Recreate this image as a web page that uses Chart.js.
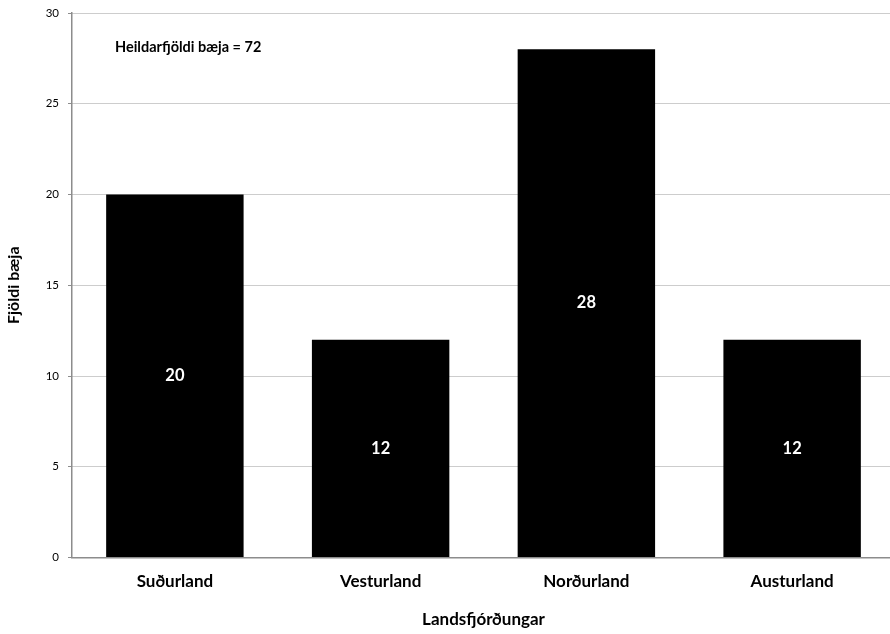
<!DOCTYPE html>
<html>
<head>
<meta charset="utf-8">
<script src="https://cdn.jsdelivr.net/npm/chart.js@4.4.1/dist/chart.umd.min.js"></script>
<style>
  html, body { margin: 0; padding: 0; background: #fff; overflow: hidden; }
  #wrap { position: relative; width: 895px; height: 634px; }
</style>
</head>
<body>
<div id="wrap"><canvas id="chart"></canvas></div>
<script>
// Fjöldi bæja eftir landsfjórðungum
const categories = ["Suðurland", "Vesturland", "Norðurland", "Austurland"];
const farmCounts = [20, 12, 28, 12];
const yTicks = [0, 5, 10, 15, 20, 25, 30];
const totalNote = "Heildarfjöldi bæja = 72";

const FONT = "Lato, 'Open Sans', sans-serif";
const AXIS = "#8c8c8c";

// white value labels centred in each bar, plus the total note top-left
const barLabels = {
  id: "barLabels",
  afterDatasetsDraw(chart) {
    const { ctx, chartArea } = chart;
    const meta = chart.getDatasetMeta(0);
    ctx.save();
    ctx.fillStyle = "#fff";
    ctx.font = `bold 16.5px ${FONT}`;
    ctx.textAlign = "center";
    ctx.textBaseline = "middle";
    meta.data.forEach((bar, i) => {
      const mid = (bar.y + bar.base) / 2;
      ctx.fillText(String(farmCounts[i]), bar.x, mid);
    });
    ctx.fillStyle = "#000";
    ctx.font = `bold 14.5px ${FONT}`;
    ctx.textAlign = "left";
    ctx.fillText(totalNote, chartArea.left + 43, chartArea.top + 34);
    ctx.restore();
  },
};

new Chart(document.getElementById("chart"), {
  type: "bar",
  data: {
    labels: categories,
    datasets: [{
      data: farmCounts,
      backgroundColor: "#000",
      borderWidth: 0,
      categoryPercentage: 1,
      barPercentage: 0.668,
    }],
  },
  options: {
    responsive: true,
    maintainAspectRatio: false,
    animation: false,
    layout: { padding: { top: 13, right: 0, left: 0, bottom: 0 } },
    plugins: { legend: { display: false }, tooltip: { enabled: false } },
    scales: {
      x: {
        grid: { display: false },
        border: { display: true, color: AXIS, width: 1.5 },
        ticks: { color: "#000", font: { family: FONT, size: 17, weight: "bold" }, padding: 6 },
        title: {
          display: true, text: "Landsfjórðungar", color: "#000",
          font: { family: FONT, size: 17, weight: "bold" }, padding: { top: 14 },
        },
        afterFit(scale) { scale.height = 76.5; },
      },
      y: {
        min: 0,
        max: 30,
        afterBuildTicks(scale) { scale.ticks = yTicks.map((v) => ({ value: v })); },
        afterFit(scale) {
          scale.width = 72;
          // let the top tick label overhang instead of pushing the plot down
          scale.paddingTop = 0;
        },
        grid: { color: "#9a9a9a", lineWidth: 1, tickLength: 4, tickColor: AXIS, tickBorderDash: [] },
        border: { display: true, color: AXIS, width: 1.5, dash: [1, 1] },
        ticks: { color: "#000", font: { family: FONT, size: 11.5, lineHeight: 1 }, padding: 9 },
        title: {
          display: true, text: "Fjöldi bæja", color: "#000",
          font: { family: FONT, size: 16, weight: "bold" }, padding: { bottom: 12 },
        },
      },
    },
  },
  plugins: [barLabels],
});
</script>
</body>
</html>
